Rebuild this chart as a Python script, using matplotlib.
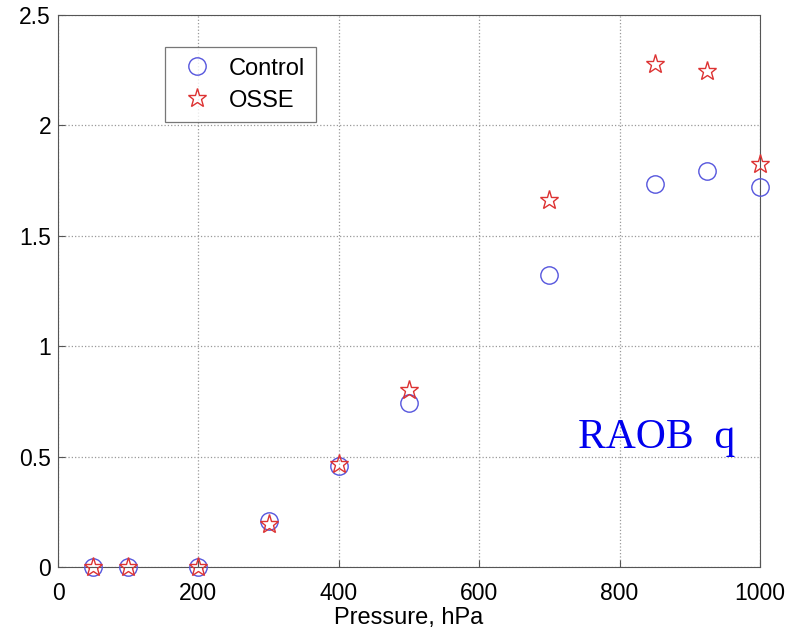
import matplotlib
matplotlib.use("Agg")
import matplotlib.pyplot as plt

pressure = [50, 100, 200, 300, 400, 500, 700, 850, 925, 1000]
control = [0.0, 0.0, 0.0, 0.207, 0.457, 0.743, 1.322, 1.735, 1.793, 1.721]
osse = [0.0, 0.0, 0.0, 0.195, 0.466, 0.800, 1.662, 2.278, 2.246, 1.825]

xticks = [0, 200, 400, 600, 800, 1000]
yticks = [0, 0.5, 1, 1.5, 2, 2.5]
ytick_labels = ["0", "0.5", "1", "1.5", "2", "2.5"]

plt.rcParams['font.family'] = ['Liberation Sans', 'DejaVu Sans']

fig = plt.figure(figsize=(7.95, 6.34), dpi=100)
ax = fig.add_axes([0.073, 0.1057, 0.883, 0.8705])

ax.plot(pressure, control, linestyle='none', marker='o', markersize=12.5,
        markerfacecolor='none', markeredgecolor='#5555dd', markeredgewidth=1.0,
        label='Control', clip_on=False, zorder=3)
ax.plot(pressure, osse, linestyle='none', marker='*', markersize=14,
        markerfacecolor='none', markeredgecolor='#dd3333', markeredgewidth=1.0,
        label='OSSE', clip_on=False, zorder=4)

ax.set_xlim(0, 1000)
ax.set_ylim(0, 2.5)
ax.set_xticks(xticks)
ax.set_xticklabels([str(t) for t in xticks])
ax.set_yticks(yticks)
ax.set_yticklabels(ytick_labels)
ax.tick_params(labelsize=16.5, direction='in', length=5, color='#555555')
ax.tick_params(axis='y', pad=5)
ax.tick_params(axis='x', pad=11)
ax.grid(True, linestyle=':', color='#999999', linewidth=0.9)
for s in ax.spines.values():
    s.set_color('#555555')
ax.set_xlabel('Pressure, hPa', fontsize=17, labelpad=1)

leg = ax.legend(loc='upper left', bbox_to_anchor=(0.1524, 0.942), borderaxespad=0,
                fontsize=17, frameon=True, fancybox=False, edgecolor='#555555',
                handlelength=1.8, handletextpad=0.45, borderpad=0.45, labelspacing=0.42)
leg.get_frame().set_linewidth(0.9)

ax.text(741, 0.539, 'RAOB  q', fontsize=30, color='#0000ee',
        family=['Liberation Serif', 'DejaVu Serif'], ha='left', va='baseline')

fig.savefig('out.png', dpi=100)
